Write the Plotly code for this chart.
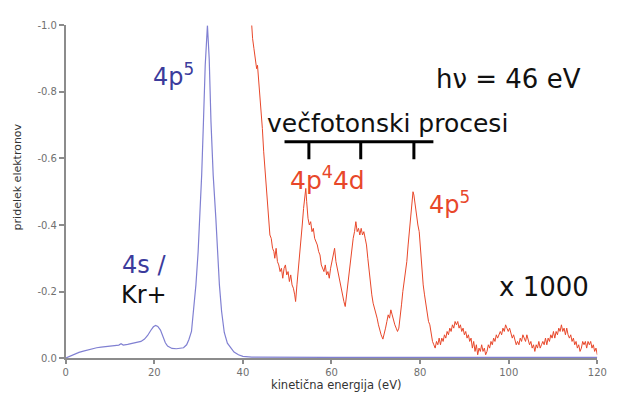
import plotly.graph_objects as go

blue_x = [0.0, 0.5, 1.0, 2.0, 3.0, 4.0, 5.0, 6.0, 7.0, 8.0, 9.0, 10.0, 11.0, 12.0, 12.5, 13.0,
          14.0, 15.0, 16.0, 17.0, 17.8, 18.5, 19.2, 19.8, 20.3, 20.8, 21.4, 22.0, 22.5, 23.0,
          24.0, 25.0, 26.0, 26.6, 27.3, 27.8, 28.4, 28.9, 29.4, 29.9, 30.3, 30.7, 31.1, 31.5,
          32.0, 32.4, 32.8, 33.3, 33.9, 34.3, 34.7, 35.2, 35.8, 36.5, 37.3, 38.0, 39.0, 40.0,
          42.0, 50.0, 60.0, 70.0, 80.0, 90.0, 100.0, 110.0, 120.0]
blue_y = [-0.000, -0.003, -0.006, -0.012, -0.017, -0.021, -0.025, -0.028, -0.031, -0.033,
          -0.035, -0.037, -0.037, -0.039, -0.043, -0.039, -0.041, -0.044, -0.046, -0.050,
          -0.057, -0.068, -0.083, -0.094, -0.098, -0.095, -0.084, -0.063, -0.046, -0.036,
          -0.029, -0.028, -0.029, -0.031, -0.040, -0.055, -0.080, -0.140, -0.220, -0.320,
          -0.420, -0.550, -0.710, -0.880, -1.000, -0.900, -0.710, -0.550, -0.420, -0.310,
          -0.220, -0.140, -0.077, -0.045, -0.030, -0.018, -0.010, -0.005, -0.003, -0.002,
          -0.002, -0.002, -0.002, -0.002, -0.002, -0.002, -0.002]

red_x = [41.5, 41.9, 42.2, 42.5, 42.8, 43.1, 43.3, 43.5, 43.8, 44.1, 44.4, 44.7, 45.0, 45.3,
         45.6, 45.9, 46.1, 46.4, 46.7, 47.0, 47.2, 47.5, 47.8, 48.1, 48.4, 48.7, 49.0, 49.3,
         49.6, 49.9, 50.2, 50.5, 50.8, 51.1, 51.4, 51.7, 51.9, 52.2, 52.5, 52.8, 53.1, 53.4,
         53.7, 54.0, 54.2, 54.4, 54.7, 55.0, 55.3, 55.6, 55.9, 56.2, 56.5, 56.8, 57.1, 57.4,
         57.7, 58.0, 58.3, 58.6, 58.9, 59.2, 59.5, 59.8, 60.1, 60.4, 60.7, 61.0, 61.3, 61.6,
         61.9, 62.2, 62.5, 62.8, 63.1, 63.4, 63.7, 64.0, 64.3, 64.6, 64.9, 65.2, 65.5, 65.8,
         66.1, 66.4, 66.7, 67.0, 67.3, 67.6, 67.9, 68.2, 68.5, 68.8, 69.1, 69.4, 69.7, 70.0,
         70.3, 70.6, 70.9, 71.2, 71.6, 71.9, 72.2, 72.5, 72.8, 73.1, 73.4, 73.7, 74.0, 74.3,
         74.6, 74.9, 75.2, 75.5, 75.8, 76.1, 76.4, 76.7, 77.0, 77.3, 77.6, 77.9, 78.2, 78.4,
         78.6, 78.9, 79.2, 79.5, 79.8, 80.1, 80.4, 80.7, 81.0, 81.3, 81.6, 81.9, 82.2, 82.5,
         82.8, 83.1, 83.4, 83.7, 84.0, 84.3, 84.6, 84.9, 85.2, 85.5, 85.8, 86.1, 86.4, 86.7,
         87.0, 87.3, 87.6, 87.9, 88.2, 88.5, 88.8, 89.1, 89.4, 89.7, 90.0, 90.3, 90.6, 90.9,
         91.2, 91.5, 91.8, 92.1, 92.4, 92.7, 93.0, 93.3, 93.6, 93.9, 94.2, 94.5, 94.8, 95.1,
         95.4, 95.7, 96.0, 96.3, 96.6, 96.9, 97.2, 97.5, 97.8, 98.1, 98.4, 98.7, 99.0, 99.3,
         99.6, 99.9, 100.2, 100.5, 100.8, 101.1, 101.4, 101.7, 102.0, 102.3, 102.6, 102.9,
         103.2, 103.5, 103.8, 104.1, 104.4, 104.7, 105.0, 105.3, 105.6, 105.9, 106.2, 106.5,
         106.8, 107.1, 107.4, 107.7, 108.0, 108.3, 108.6, 108.9, 109.2, 109.5, 109.8, 110.1,
         110.4, 110.7, 111.0, 111.3, 111.6, 111.9, 112.2, 112.5, 112.8, 113.1, 113.4, 113.7,
         114.0, 114.3, 114.6, 114.9, 115.2, 115.5, 115.8, 116.1, 116.4, 116.7, 117.0, 117.3,
         117.6, 117.9, 118.2, 118.5, 118.8, 119.1, 119.4, 119.7, 120.0]
red_y = [-1.10, -1.00, -0.96, -0.93, -0.90, -0.87, -0.88, -0.85, -0.80, -0.75, -0.69, -0.62,
         -0.56, -0.50, -0.45, -0.41, -0.37, -0.36, -0.33, -0.32, -0.30, -0.33, -0.29, -0.28,
         -0.26, -0.27, -0.24, -0.27, -0.28, -0.25, -0.26, -0.23, -0.25, -0.22, -0.21, -0.19,
         -0.17, -0.22, -0.26, -0.30, -0.35, -0.40, -0.45, -0.48, -0.51, -0.47, -0.42, -0.40,
         -0.41, -0.38, -0.39, -0.36, -0.35, -0.34, -0.32, -0.31, -0.28, -0.27, -0.26, -0.28,
         -0.25, -0.26, -0.24, -0.27, -0.29, -0.31, -0.33, -0.29, -0.27, -0.24, -0.22, -0.20,
         -0.19, -0.17, -0.155, -0.19, -0.23, -0.27, -0.30, -0.33, -0.36, -0.38, -0.41, -0.38,
         -0.39, -0.37, -0.39, -0.37, -0.38, -0.36, -0.34, -0.30, -0.26, -0.22, -0.19, -0.165,
         -0.15, -0.14, -0.12, -0.10, -0.08, -0.07, -0.057, -0.07, -0.09, -0.11, -0.13, -0.12,
         -0.145, -0.13, -0.11, -0.10, -0.09, -0.08, -0.09, -0.12, -0.16, -0.20, -0.23, -0.26,
         -0.29, -0.34, -0.39, -0.44, -0.48, -0.50, -0.49, -0.46, -0.42, -0.40, -0.38, -0.32,
         -0.27, -0.22, -0.19, -0.16, -0.13, -0.11, -0.10, -0.07, -0.05, -0.04, -0.03, -0.05,
         -0.04, -0.06, -0.04, -0.06, -0.05, -0.07, -0.06, -0.08, -0.07, -0.09, -0.08, -0.10,
         -0.09, -0.11, -0.10, -0.11, -0.09, -0.10, -0.08, -0.09, -0.07, -0.08, -0.06, -0.07,
         -0.05, -0.06, -0.03, -0.05, -0.02, -0.04, -0.01, -0.03, -0.02, -0.04, -0.02, -0.03,
         -0.01, -0.02, -0.04, -0.03, -0.05, -0.04, -0.06, -0.05, -0.07, -0.06, -0.07, -0.08,
         -0.07, -0.09, -0.08, -0.10, -0.09, -0.08, -0.09, -0.07, -0.06, -0.07, -0.05, -0.04,
         -0.05, -0.04, -0.06, -0.05, -0.07, -0.06, -0.05, -0.07, -0.05, -0.04, -0.05, -0.03,
         -0.04, -0.02, -0.04, -0.03, -0.05, -0.03, -0.04, -0.05, -0.04, -0.06, -0.04, -0.06,
         -0.05, -0.07, -0.06, -0.08, -0.06, -0.08, -0.07, -0.09, -0.08, -0.10, -0.08, -0.09,
         -0.07, -0.09, -0.07, -0.06, -0.07, -0.05, -0.06, -0.04, -0.05, -0.03, -0.04, -0.02,
         -0.03, -0.05, -0.04, -0.05, -0.03, -0.05, -0.04, -0.05, -0.03, -0.04, -0.02, -0.03,
         -0.01]

x_ticks = [0, 20, 40, 60, 80, 100, 120]
y_ticks = [-1.0, -0.8, -0.6, -0.4, -0.2, 0.0]
y_ticktext = ["-1.0", "-0.8", "-0.6", "-0.4", "-0.2", "0.0"]

# multiphoton bracket (eV) and level
bracket_x0, bracket_x1 = 49.4, 83.0
bracket_ticks = [54.9, 66.6, 78.6]
bracket_top, bracket_bottom = -0.65, -0.598

BLUE_LINE = "#8080d2"
BLUE_TEXT = "#3b3b9c"
RED = "#e8472a"
FONT = "DejaVu Sans"
AXIS = "#8c8c8c"

W, H = 622, 399
# plot area in pixels: left 64, right 607, top 20, bottom 363
X_DOMAIN = [64 / W, 607 / W]
Y_DOMAIN = [(H - 363) / H, (H - 20) / H]

fig = go.Figure()
fig.add_trace(go.Scatter(x=blue_x, y=blue_y, mode="lines",
                         line=dict(color=BLUE_LINE, width=1.2), showlegend=False))
fig.add_trace(go.Scatter(x=red_x, y=red_y, mode="lines",
                         line=dict(color=RED, width=1), showlegend=False))

# bracket
fig.add_shape(type="line", x0=bracket_x0, x1=bracket_x1, y0=bracket_top, y1=bracket_top,
              xref="x", yref="y", line=dict(color="black", width=3))
for bx in bracket_ticks:
    fig.add_shape(type="line", x0=bx, x1=bx, y0=bracket_top, y1=bracket_bottom,
                  xref="x", yref="y", line=dict(color="black", width=3))

def ann(text, x, y, color, size):
    fig.add_annotation(text=text, x=x, y=y, xref="x", yref="y", showarrow=False,
                       xanchor="center", yanchor="middle",
                       font=dict(family=FONT, size=size, color=color))

ann("4p<sup>5</sup>", 24.4, -0.85, BLUE_TEXT, 24)
ann("4s /", 17.7, -0.28, BLUE_TEXT, 24)
ann("Kr+", 17.6, -0.19, "#111111", 24)
ann("hν = 46 eV", 100.0, -0.84, "#111111", 26)
ann("večfotonski procesi", 72.7, -0.705, "#111111", 25)
ann("4p<sup>4</sup>4d", 59.2, -0.54, RED, 25)
ann("4p<sup>5</sup>", 86.7, -0.465, RED, 24)
ann("x 1000", 108.0, -0.213, "#111111", 26)

# axis titles
fig.add_annotation(text="kinetična energija (eV)", x=341 / W, y=0,
                   xref="paper", yref="paper", borderpad=0,
                   showarrow=False, xanchor="center", yanchor="bottom",
                   font=dict(family=FONT, size=11.5, color="#333333"))
fig.add_annotation(text="pridelek elektronov", x=15 / W, y=(H - 176) / H,
                   xref="paper", yref="paper",
                   showarrow=False, xanchor="center", yanchor="middle", textangle=-90,
                   font=dict(family=FONT, size=11, color="#333333"))

fig.update_layout(
    width=W, height=H,
    margin=dict(l=0, r=0, t=0, b=0),
    paper_bgcolor="white", plot_bgcolor="white",
    showlegend=False,
    xaxis=dict(domain=X_DOMAIN, range=[0, 120], tickvals=x_ticks, showgrid=False,
               zeroline=False, showline=True, linecolor=AXIS, linewidth=1.5,
               ticks="outside", ticklen=4, tickcolor=AXIS, tickwidth=1.5,
               tickfont=dict(family=FONT, size=10, color="#707070")),
    yaxis=dict(domain=Y_DOMAIN, range=[0.0, -1.0], tickvals=y_ticks, ticktext=y_ticktext,
               showgrid=False, zeroline=False, showline=True, linecolor=AXIS, linewidth=1.5,
               ticks="outside", ticklen=5, tickcolor=AXIS, tickwidth=1.5,
               tickfont=dict(family=FONT, size=10, color="#707070")),
)

fig.write_html("out.html")
